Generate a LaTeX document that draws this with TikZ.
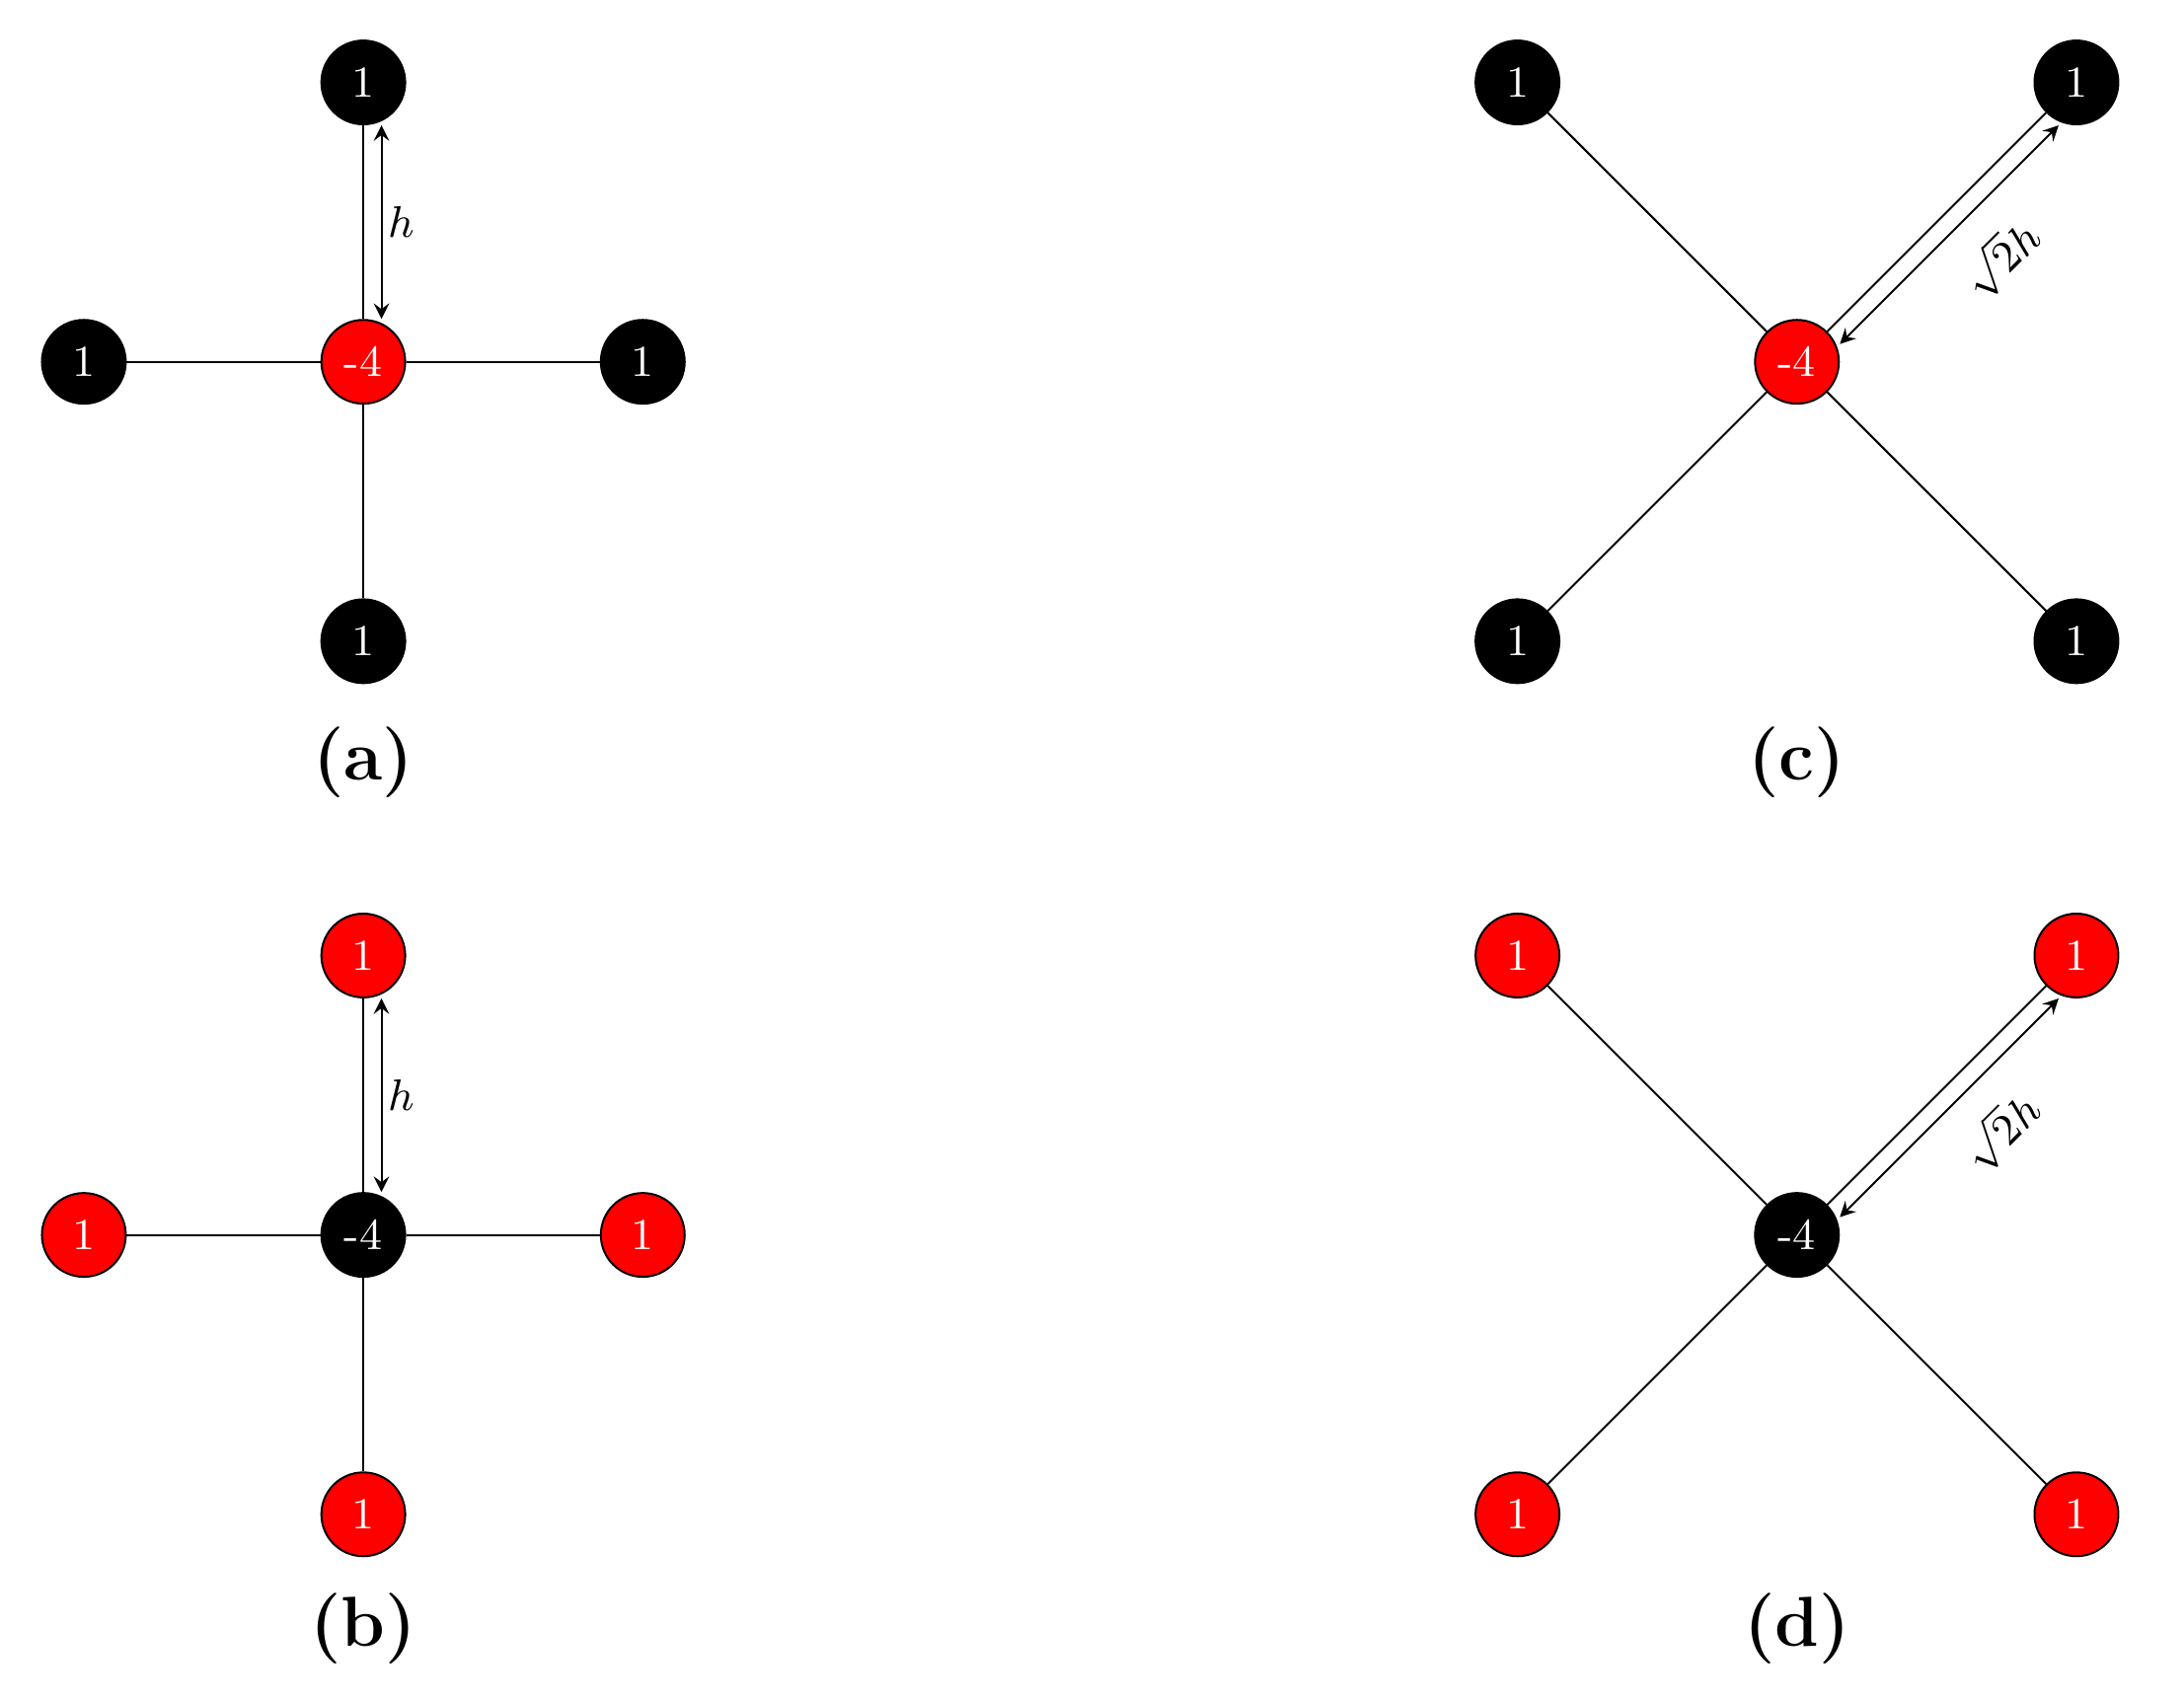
\documentclass[tikz,border=0pt]{standalone}
\begin{document}
\begin{tikzpicture}[
  bn/.style={circle,draw=black,fill=black,text=white,minimum size=0.6cm,inner sep=0pt,font=\small},
  rn/.style={circle,draw=black,fill=red,text=white,minimum size=0.6cm,inner sep=0pt,font=\small},
  edge/.style={draw=black,line width=0.4pt},
  dim/.style={<->,>=stealth,line width=0.4pt},
  lab/.style={font=\Large\bfseries}]
\useasboundingbox (0,-0.06) rectangle (15.63,12.11);
% (a)
\node[rn] (a0) at (2.6,9.52) {-4};
\node[bn] (aN) at (2.6,11.52) {1};
\node[bn] (aS) at (2.6,7.52) {1};
\node[bn] (aW) at (0.6,9.52) {1};
\node[bn] (aE) at (4.6,9.52) {1};
\foreach \n in {aN,aS,aW,aE} \draw[edge] (a0) -- (\n);
\draw[dim,transform canvas={xshift=0.13cm}] (a0) -- (aN);
\node[font=\small] at (2.87,10.52) {$h$};
\node[lab] (la) at (2.6,6.65) {(a)};
% (b)
\node[bn] (b0) at (2.6,3.27) {-4};
\node[rn] (bN) at (2.6,5.27) {1};
\node[rn] (bS) at (2.6,1.27) {1};
\node[rn] (bW) at (0.6,3.27) {1};
\node[rn] (bE) at (4.6,3.27) {1};
\foreach \n in {bN,bS,bW,bE} \draw[edge] (b0) -- (\n);
\draw[dim,transform canvas={xshift=0.13cm}] (b0) -- (bN);
\node[font=\small] at (2.87,4.27) {$h$};
\node[lab] (lb) at (2.6,0.45) {(b)};
% (c)
\node[rn] (c0) at (12.86,9.52) {-4};
\node[bn] (cNE) at (14.86,11.52) {1};
\node[bn] (cNW) at (10.86,11.52) {1};
\node[bn] (cSE) at (14.86,7.52) {1};
\node[bn] (cSW) at (10.86,7.52) {1};
\foreach \n in {cNE,cNW,cSE,cSW} \draw[edge] (c0) -- (\n);
\draw[dim,transform canvas={shift={(0.09cm,-0.09cm)}}] (c0) -- (cNE);
\node[rotate=45,font=\small] at (14.32,10.26) {$\sqrt{2}h$};
\node[lab] (lc) at (12.86,6.65) {(c)};
% (d)
\node[bn] (d0) at (12.86,3.27) {-4};
\node[rn] (dNE) at (14.86,5.27) {1};
\node[rn] (dNW) at (10.86,5.27) {1};
\node[rn] (dSE) at (14.86,1.27) {1};
\node[rn] (dSW) at (10.86,1.27) {1};
\foreach \n in {dNE,dNW,dSE,dSW} \draw[edge] (d0) -- (\n);
\draw[dim,transform canvas={shift={(0.09cm,-0.09cm)}}] (d0) -- (dNE);
\node[rotate=45,font=\small] at (14.32,4.01) {$\sqrt{2}h$};
\node[lab] (ld) at (12.86,0.45) {(d)};
\end{tikzpicture}
\end{document}
